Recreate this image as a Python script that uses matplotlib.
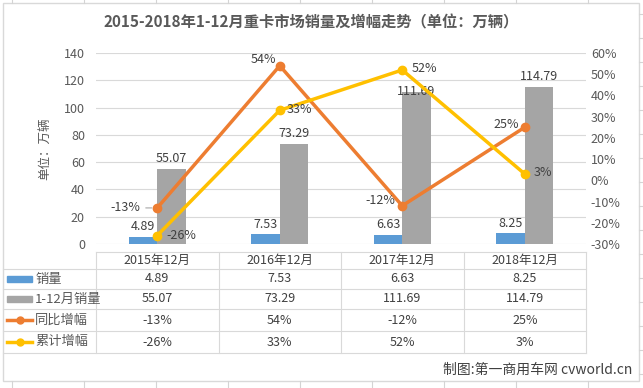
import matplotlib.pyplot as plt
import numpy as np
from matplotlib.patches import Rectangle

plt.rcParams['font.family'] = ['Noto Sans CJK SC', 'DejaVu Sans']

# data
categories = ['2015年12月', '2016年12月', '2017年12月', '2018年12月']
monthly_sales = [4.89, 7.53, 6.63, 8.25]
ytd_sales = [55.07, 73.29, 111.69, 114.79]
yoy_growth = [-13, 54, -12, 25]
ytd_growth = [-26, 33, 52, 3]
series_names = ['销量', '1-12月销量', '同比增幅', '累计增幅']

BLUE = '#5B9BD5'
GRAY = '#A5A5A5'
ORANGE = '#ED7D31'
YELLOW = '#FFC000'
TXT = '#595959'
GRID = '#D9D9D9'

W, H = 643, 388
fig = plt.figure(figsize=(W / 100, H / 100), dpi=100)

# background layer in pixel coordinates (y down)
bg = fig.add_axes([0, 0, 1, 1])
bg.set_xlim(0, W)
bg.set_ylim(H, 0)
bg.axis('off')
bg.set_zorder(0)

# excel cell grid peeking out around the chart
for x in np.arange(12, W, 72):
    bg.plot([x, x], [0, 3], color='#D4D4D4', lw=0.8)
    bg.plot([x, x], [381, H], color='#D4D4D4', lw=0.8)
for y in np.arange(14, H, 24):
    bg.plot([639, W], [y, y], color='#D4D4D4', lw=0.8)
bg.add_patch(Rectangle((3, 3), 636, 378, facecolor='white', edgecolor=GRID, lw=1))

# plot area
px_l, px_r, px_top, px_bot = 96, 586, 53, 244
ax = fig.add_axes([px_l / W, 1 - px_bot / H, (px_r - px_l) / W, (px_bot - px_top) / H])
ax.set_zorder(2)
ax.patch.set_visible(False)
ax2 = ax.twinx()

x = np.arange(len(categories))
bw = 0.233
b1 = ax.bar(x - bw / 2, monthly_sales, bw, color=BLUE, zorder=2)
b2 = ax.bar(x + bw / 2, ytd_sales, bw, color=GRAY, zorder=2)
blue_off = [4, 3, 4, 3]
gray_off = [4, 4, -6, 4]
for rects, vals, offs in ((b1, monthly_sales, blue_off), (b2, ytd_sales, gray_off)):
    for r, v, o in zip(rects, vals, offs):
        ax.annotate(f'{v:.2f}', (r.get_x() + r.get_width() / 2, v), xytext=(0, o),
                    textcoords='offset pixels', ha='center', va='bottom',
                    fontsize=9, color='#404040', zorder=5)

ax.set_xlim(-0.5, len(categories) - 0.5)
ax.set_ylim(0, 140)
ax.set_yticks(range(0, 141, 20))
ax.grid(axis='y', color=GRID, lw=0.8, zorder=0)
ax.set_axisbelow(True)
ax.set_xticks([])
ax.set_ylabel('单位：万辆', fontsize=9, color=TXT, labelpad=9)

ax2.plot(x, yoy_growth, color=ORANGE, lw=2.5, marker='o', ms=6, zorder=3)
ax2.plot(x, ytd_growth, color=YELLOW, lw=2.5, marker='o', ms=6, zorder=3)
ax2.set_ylim(-30, 60)
ax2.set_yticks(range(-30, 61, 10))
ax2.set_yticklabels([f'{t}%' for t in range(-30, 61, 10)])

# label offsets in pixels (layout only)
yoy_off = [(-32, 0), (-16, 6), (-22, 5), (-19, 3)]
ytd_off = [(24, 0), (20, 1), (22, 1), (18, 1)]
for i, v in enumerate(yoy_growth):
    kw = {}
    if i == 0:
        kw['arrowprops'] = dict(arrowstyle='-', color='#A6A6A6', lw=0.8, shrinkA=2, shrinkB=4)
    ax2.annotate(f'{v}%', (x[i], v), xytext=yoy_off[i], textcoords='offset pixels',
                 ha='center', va='center', fontsize=9, color='#404040', **kw)
for i, v in enumerate(ytd_growth):
    ax2.annotate(f'{v}%', (x[i], v), xytext=ytd_off[i], textcoords='offset pixels',
                 ha='center', va='center', fontsize=9, color='#404040')

for a in (ax, ax2):
    for s in a.spines.values():
        s.set_visible(False)
    a.tick_params(length=0, labelsize=9, labelcolor=TXT)
ax.tick_params(pad=8)

# title
bg.text(W / 2 - 10, 22, '2015-2018年1-12月重卡市场销量及增幅走势（单位：万辆）',
        ha='center', va='center', fontsize=11, fontweight='bold', color=TXT)

# data table
col_w = (px_r - px_l) / len(categories)
row_edges = [252, 269, 289, 309, 331, 353]
for y in row_edges:
    bg.plot([px_l if y == row_edges[0] else 3, px_r], [y, y], color=GRID, lw=0.8)
bg.plot([px_l, px_l], [row_edges[0], row_edges[-1]], color=GRID, lw=0.8)
for k in range(1, len(categories) + 1):
    xe = px_l + k * col_w
    bg.plot([xe, xe], [row_edges[0], row_edges[-1]], color=GRID, lw=0.8)

centers = [px_l + (k + 0.5) * col_w for k in range(len(categories))]
for cx, c in zip(centers, categories):
    bg.text(cx, (row_edges[0] + row_edges[1]) / 2, c, ha='center', va='center',
            fontsize=9, color='#404040')

rows = [
    [f'{v:.2f}' for v in monthly_sales],
    [f'{v:.2f}' for v in ytd_sales],
    [f'{v}%' for v in yoy_growth],
    [f'{v}%' for v in ytd_growth],
]
colors = [BLUE, GRAY, ORANGE, YELLOW]
for r, (name, vals, col) in enumerate(zip(series_names, rows, colors)):
    yc = (row_edges[r + 1] + row_edges[r + 2]) / 2
    if r < 2:
        bg.add_patch(Rectangle((7, yc - 3), 25, 6, color=col))
    else:
        bg.plot([7, 32], [yc, yc], color=col, lw=2.5)
        bg.plot([19.5], [yc], marker='o', ms=5, color=col)
    bg.text(35, yc, name, ha='left', va='center', fontsize=9.5, color=TXT)
    for cx, s in zip(centers, vals):
        bg.text(cx, yc, s, ha='center', va='center', fontsize=9, color='#404040')

bg.text(632, 370, '制图:第一商用车网 cvworld.cn', ha='right', va='center',
        fontsize=10, color='#404040')

fig.savefig('out.png', dpi=100)
